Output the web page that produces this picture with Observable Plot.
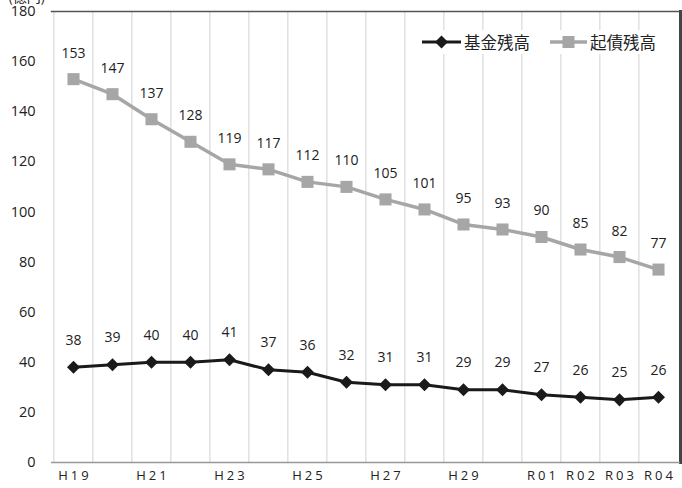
<!DOCTYPE html>
<html><head><meta charset="utf-8">
<script src="https://cdn.jsdelivr.net/npm/d3@7"></script>
<script src="https://cdn.jsdelivr.net/npm/@observablehq/plot@0.6"></script>
<style>
body{margin:0;background:#fff;font-family:"Noto Sans CJK JP","Noto Sans",sans-serif;}
#wrap{position:relative;width:682px;height:488px;overflow:hidden;}
#unit{position:absolute;left:8px;top:-14px;font-size:14px;color:#222;z-index:2;}
#legend{position:absolute;left:421px;top:30px;display:flex;align-items:center;font-size:16.5px;color:#222;z-index:2;background:#fff;}
#legend > span{display:flex;align-items:center;margin-right:19px;}
g[aria-label="x-axis tick label"] text{letter-spacing:3px;}
</style></head>
<body><div id="wrap"><div id="unit">(億円)</div><div id="legend"></div></div>
<script>
const years = ["H19","H20","H21","H22","H23","H24","H25","H26","H27","H28","H29","H30","R01","R02","R03","R04"];
const shownLabels = ["H19","H21","H23","H25","H27","H29","R01","R02","R03","R04"];
const fund = [38,39,40,40,41,37,36,32,31,31,29,29,27,26,25,26];
const bonds = [153,147,137,128,119,117,112,110,105,101,95,93,90,85,82,77];
const yTicks = [0,20,40,60,80,100,120,140,160,180];
const seriesNames = ["基金残高","起債残高"];

const fundData = years.map((y,i)=>({year:y,v:fund[i]}));
const bondData = years.map((y,i)=>({year:y,v:bonds[i]}));

const diamond = {draw(ctx,size){const h=Math.sqrt(size/2);ctx.moveTo(0,-h);ctx.lineTo(h,0);ctx.lineTo(0,h);ctx.lineTo(-h,0);ctx.closePath();}};

const W=682,H=488,mL=51,mR=2,mT=11,mB=26;
const step=(W-mL-mR)/years.length;

const chart = Plot.plot({
  width:W,height:H,marginLeft:mL,marginRight:mR,marginTop:mT,marginBottom:mB,
  style:{fontFamily:"'Open Sans','Noto Sans',sans-serif",fontSize:"14px",color:"#222",background:"transparent"},
  x:{type:"point",domain:years,padding:0.5,label:null},
  y:{domain:[0,180],label:null},
  marks:[
    Plot.ruleX(years,{x:d=>d,dx:-step/2,stroke:"#d9d9d9",strokeWidth:1.2}),
    Plot.frame({anchor:"top",stroke:"#555",strokeWidth:1.5}),
    Plot.frame({anchor:"right",stroke:"#444",strokeWidth:3}),
    Plot.ruleY([0],{stroke:"#999",strokeWidth:1.5}),
    Plot.axisY({ticks:yTicks,tickSize:0,tickPadding:16,fontSize:14.5,label:null}),
    Plot.axisX({ticks:shownLabels,tickSize:0,tickPadding:8,fontSize:13,dx:1.5,label:null}),
    Plot.line(bondData,{x:"year",y:"v",stroke:"#a6a6a6",strokeWidth:3.5}),
    Plot.dot(bondData,{x:"year",y:"v",symbol:"square",r:6.8,fill:"#a6a6a6",stroke:"none"}),
    Plot.text(bondData,{x:"year",y:"v",text:d=>String(d.v),dy:-26,fontSize:14,fill:"#222"}),
    Plot.line(fundData,{x:"year",y:"v",stroke:"#1a1a1a",strokeWidth:3}),
    Plot.dot(fundData,{x:"year",y:"v",symbol:diamond,r:5.2,fill:"#1a1a1a",stroke:"none"}),
    Plot.text(fundData,{x:"year",y:"v",text:d=>String(d.v),dy:-27,fontSize:14,fill:"#222"})
  ]
});
const wrap=document.getElementById("wrap");
wrap.insertBefore(chart, wrap.firstChild);
chart.style.position="absolute";chart.style.left="0";chart.style.top="0";chart.style.zIndex="1";

const leg=document.getElementById("legend");
const sw=[
 `<svg width="41" height="14"><line x1="1" y1="7" x2="40" y2="7" stroke="#1a1a1a" stroke-width="3"/><path d="M20.5,0.5L27,7L20.5,13.5L14,7Z" fill="#1a1a1a"/></svg>`,
 `<svg width="39" height="14"><line x1="1" y1="7" x2="38" y2="7" stroke="#a6a6a6" stroke-width="3.5"/><rect x="13.5" y="1" width="12" height="12" fill="#a6a6a6"/></svg>`
];
seriesNames.forEach((n,i)=>{const s=document.createElement("span");s.innerHTML=sw[i]+`<span style="margin-left:2px">${n}</span>`;leg.appendChild(s);});
</script></body></html>
